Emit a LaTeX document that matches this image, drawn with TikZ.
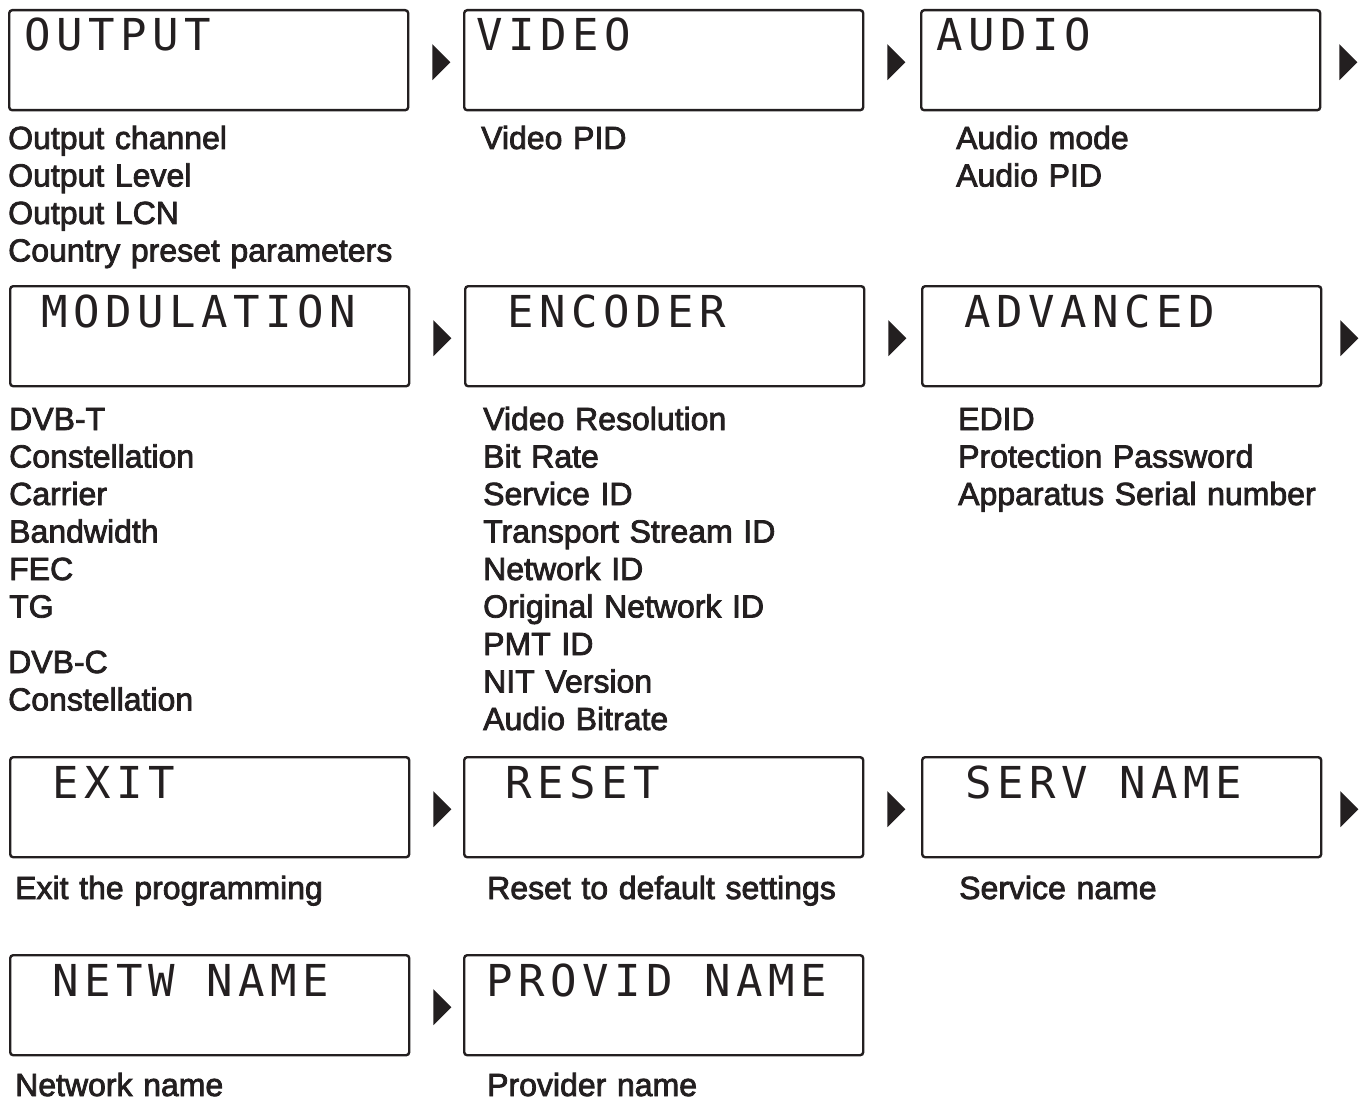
\documentclass[tikz,border=0pt]{standalone}
\usepackage{fontspec}
\usepackage{xcolor}
\setmainfont{Liberation Sans}[FakeBold=2.5]
\newfontfamily\lcdfont{DejaVu Sans Mono}[LetterSpace=12.5]
\definecolor{ink}{HTML}{231F20}

\begin{document}
\begin{tikzpicture}[x=1pt,y=-1pt,
	lcdbox/.style={draw=ink,line width=2.4pt,rounded corners=3pt,anchor=north west,
		inner sep=0pt,minimum width=399pt,minimum height=100pt},
	lcdtext/.style={anchor=base west,inner sep=0pt,text=ink,
		font=\lcdfont\fontsize{44}{44}\selectfont},
	lbl/.style={anchor=base west,inner sep=0pt,text=ink,align=left,text width=420pt,
		font=\fontsize{32}{37.5}\selectfont}]
	\useasboundingbox (0,0) rectangle (1365,1102);
	\foreach \n/\x/\y/\s/\t in {
			out/8/9/16/OUTPUT,
			vid/463/9/13/VIDEO,
			aud/920/9/16/AUDIO,
			mod/9/285/32/MODULATION,
			enc/464/285/43/ENCODER,
			adv/921/285/43/ADVANCED,
			exi/9/756/43/EXIT,
			rst/463/756/42/RESET,
			srv/921/756/44/SERV NAME,
			net/9/954/43/NETW NAME,
			prv/463/954/23/PROVID NAME}
		{
		\node[lcdbox] (\n) at (\x,\y) {};
		\node[lcdtext] (\n-t) at ([xshift=\s pt,yshift=-42pt]\n.north west) {\t};
	};
	% arrows between the screens
	\foreach \n/\d in {out/23,vid/23,aud/18,mod/23,enc/23,adv/18,exi/23,rst/23,srv/18,net/23}
		\fill[ink] ([xshift=\d pt,yshift=-2pt]\n.east) ++(0pt,18pt) -- ++(18pt,-18pt)
			-- ++(-18pt,-18pt) -- cycle;
	% parameters under each screen
	\node[lbl] (out-l) at (8,149) {Output channel\\Output Level\\Output LCN\\Country preset parameters};
	\node[lbl] (vid-l) at (481,149) {Video PID};
	\node[lbl] (aud-l) at (956,149) {Audio mode\\Audio PID};
	\node[lbl] (mod-l) at (9,430) {DVB-T\\Constellation\\Carrier\\Bandwidth\\FEC\\TG};
	\node[lbl] (mod-c) at (8,673) {DVB-C\\Constellation};
	\node[lbl] (enc-l) at (483,430) {Video Resolution\\Bit Rate\\Service ID\\Transport Stream ID\\Network ID\\Original Network ID\\PMT ID\\NIT Version\\Audio Bitrate};
	\node[lbl] (adv-l) at (958,430) {EDID\\Protection Password\\Apparatus Serial number};
	\node[lbl] (exi-l) at (15,899) {Exit the programming};
	\node[lbl] (rst-l) at (487,899) {Reset to default settings};
	\node[lbl] (srv-l) at (959,899) {Service name};
	\node[lbl] (net-l) at (15,1096) {Network name};
	\node[lbl] (prv-l) at (487,1096) {Provider name};
\end{tikzpicture}
\end{document}
